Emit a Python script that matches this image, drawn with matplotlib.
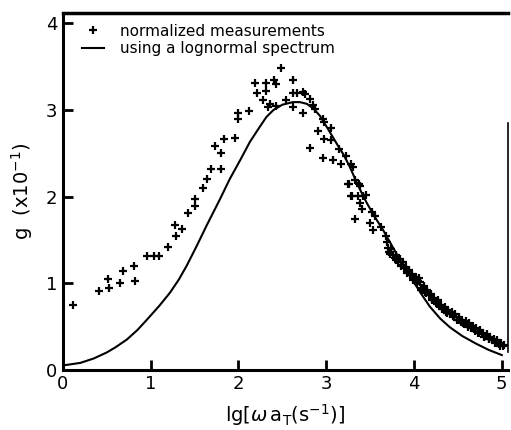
#!/usr/bin/env python3

import numpy as np
import matplotlib
matplotlib.use("Agg")
import matplotlib.pyplot as plt

meas_x = [0.11, 0.41, 0.51, 0.52, 0.65, 0.68, 0.81, 0.82, 0.96, 1.04, 1.10,
          1.20, 1.29, 1.28, 1.36, 1.42, 1.50, 1.50, 1.60, 1.64, 1.69, 1.80,
          1.73, 1.80, 1.83, 1.96, 1.99, 1.99, 2.12, 2.19, 2.21, 2.31, 2.31,
          2.28, 2.40, 2.43, 2.34, 2.43, 2.48, 2.62, 2.36, 2.54, 2.62, 2.67,
          2.73, 2.76, 2.62, 2.73, 2.81, 2.85, 2.87, 2.96, 2.98, 2.91, 3.06,
          2.98, 3.06, 2.82, 2.96, 3.08, 3.15, 3.17, 3.22, 3.28, 3.31, 3.25,
          3.33, 3.28, 3.38, 3.36, 3.45, 3.26, 3.37, 3.29, 3.42, 3.39, 3.41,
          3.33, 3.52, 3.56, 3.50, 3.53, 3.62, 3.68, 3.69]
meas_y = [0.75, 0.91, 1.05, 0.94, 1.00, 1.14, 1.20, 1.03, 1.31, 1.31, 1.31,
          1.42, 1.54, 1.67, 1.63, 1.81, 1.89, 1.97, 2.10, 2.20, 2.32, 2.32,
          2.58, 2.50, 2.67, 2.68, 2.96, 2.90, 2.99, 3.31, 3.19, 3.31, 3.22,
          3.11, 3.35, 3.30, 3.03, 3.05, 3.48, 3.35, 3.07, 3.11, 3.19, 3.19,
          3.21, 3.18, 3.03, 2.96, 3.13, 3.06, 3.01, 2.90, 2.86, 2.76, 2.79,
          2.67, 2.65, 2.56, 2.45, 2.42, 2.55, 2.38, 2.47, 2.38, 2.34, 2.15,
          2.19, 2.01, 2.12, 2.01, 2.02, 2.14, 2.14, 2.01, 2.01, 1.92, 1.86,
          1.74, 1.82, 1.77, 1.70, 1.61, 1.65, 1.55, 1.47]

# dense tail of the measurements
tail_x = [3.70, 3.72, 3.74, 3.76, 3.78, 3.80, 3.82, 3.84, 3.85, 3.87, 3.89,
          3.91, 3.92, 3.94, 3.96, 3.98, 4.00, 4.02, 4.03, 4.05, 4.07, 4.09,
          4.11, 4.13, 4.15, 4.17, 4.19, 4.21, 4.23, 4.25, 4.27, 4.29, 4.31,
          4.33, 4.35, 4.37, 4.39, 4.41, 4.43, 4.45, 4.47, 4.49, 4.51, 4.53,
          4.55, 4.57, 4.59, 4.61, 4.63, 4.65, 4.67, 4.69, 4.71, 4.73, 4.75,
          4.77, 4.79, 4.81, 4.83, 4.85, 4.87, 4.89, 4.91, 4.93, 4.95, 4.97,
          4.99, 5.01, 5.03,
          3.73, 3.79, 3.86, 3.93, 3.99, 4.06, 4.08, 4.14, 4.20, 4.26, 4.32,
          4.38, 4.44, 4.50, 4.56, 4.62, 4.68, 4.74, 4.80, 4.86, 4.92, 4.98]
tail_y = [1.41, 1.36, 1.40, 1.33, 1.29, 1.32, 1.25, 1.28, 1.20, 1.24, 1.17,
          1.19, 1.12, 1.15, 1.09, 1.11, 1.05, 1.07, 1.00, 1.03, 1.01, 0.94,
          0.97, 0.90, 0.92, 0.86, 0.87, 0.82, 0.83, 0.78, 0.80, 0.74, 0.75,
          0.70, 0.72, 0.67, 0.69, 0.64, 0.67, 0.61, 0.64, 0.58, 0.61, 0.55,
          0.58, 0.53, 0.56, 0.51, 0.54, 0.48, 0.51, 0.45, 0.48, 0.43, 0.46,
          0.41, 0.43, 0.39, 0.41, 0.36, 0.38, 0.34, 0.36, 0.32, 0.34, 0.30,
          0.31, 0.28, 0.29,
          1.34, 1.27, 1.21, 1.14, 1.04, 1.06, 0.92, 0.89, 0.80, 0.76, 0.70,
          0.65, 0.62, 0.57, 0.54, 0.49, 0.47, 0.42, 0.38, 0.35, 0.31, 0.27]

# model curve, lognormal spectrum
fit_x = [0.0, 0.2, 0.35, 0.5, 0.6, 0.73, 0.85, 0.95, 1.1, 1.22, 1.32, 1.41,
         1.52, 1.64, 1.79, 1.9, 2.02, 2.13, 2.24, 2.32, 2.4, 2.5, 2.62, 2.7,
         2.78, 2.86, 2.93, 3.02, 3.12, 3.2, 3.27, 3.34, 3.4, 3.46, 3.55,
         3.65, 3.75, 3.84, 3.94, 4.03, 4.1, 4.18, 4.3, 4.41, 4.55, 4.71,
         4.85, 5.0]
fit_y = [0.05, 0.08, 0.13, 0.2, 0.26, 0.35, 0.46, 0.57, 0.74, 0.89, 1.04,
         1.2, 1.42, 1.67, 1.97, 2.2, 2.42, 2.63, 2.8, 2.92, 3.0, 3.06, 3.09,
         3.09, 3.07, 3.01, 2.93, 2.78, 2.61, 2.48, 2.34, 2.18, 2.05, 1.93,
         1.77, 1.61, 1.43, 1.27, 1.1, 0.96, 0.85, 0.73, 0.59, 0.49, 0.39,
         0.3, 0.23, 0.17]

plt.rcParams['font.family'] = 'DejaVu Sans'

fig = plt.figure(figsize=(5.11, 4.30), dpi=100)
ax = fig.add_axes([0.123, 0.140, 0.871, 0.830])

ax.plot(meas_x + tail_x, meas_y + tail_y, '+', color='black',
        markersize=6, mew=1.6, label='normalized measurements')
ax.plot(fit_x, fit_y, '-', color='black', lw=1.5,
        label='using a lognormal spectrum')

ax.set_xlim(0, 5.07)
ax.set_ylim(0, 4.12)
ax.set_xticks([0, 1, 2, 3, 4, 5])
ax.set_yticks([0, 1, 2, 3, 4])
ax.tick_params(direction='in', length=7, width=2, labelsize=13, pad=4)

ax.spines['top'].set_linewidth(2.5)
ax.spines['left'].set_linewidth(2.2)
ax.spines['bottom'].set_linewidth(2.2)
ax.spines['right'].set_linewidth(1.2)
ax.spines['right'].set_bounds(0.2, 2.85)

ax.set_xlabel(r'lg[$\omega\,$a$_{\rm T}$(s$^{-1}$)]', fontsize=14, labelpad=6)
ax.set_ylabel(r'g  (x10$^{-1}$)', fontsize=14, labelpad=8)

ax.legend(loc='upper left', frameon=False, fontsize=11,
          handlelength=1.5, handletextpad=1.0, borderaxespad=0.3,
          labelspacing=0.15, bbox_to_anchor=(0.018, 1.0))

fig.savefig('out.png', dpi=100)
